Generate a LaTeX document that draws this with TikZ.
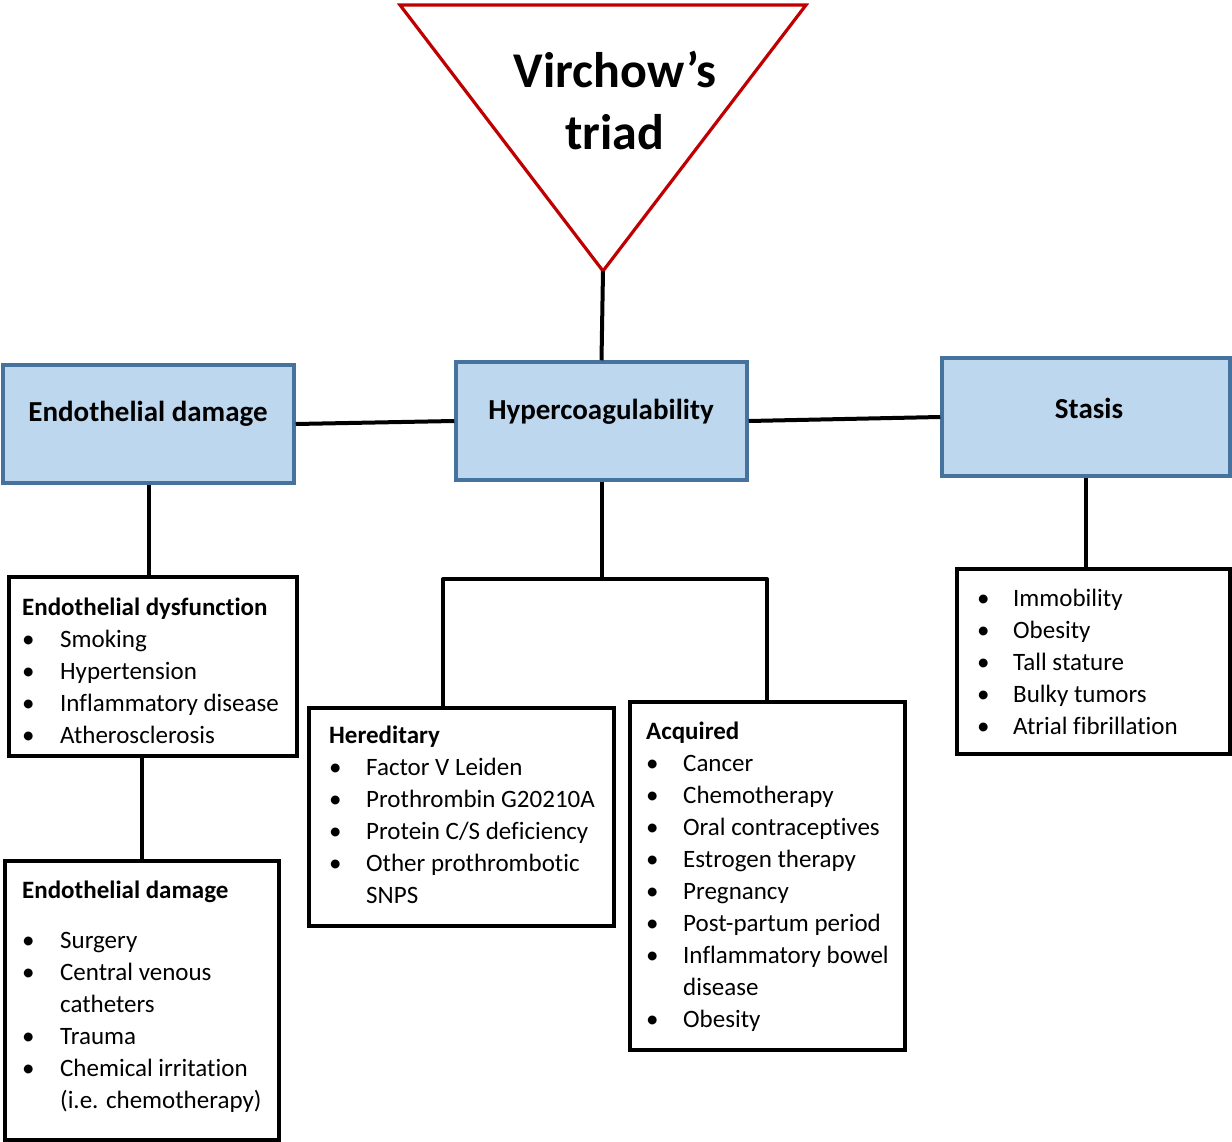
\documentclass[tikz,border=0pt]{standalone}
\usepackage{fontspec}
\setmainfont{Carlito}[RawFeature={-liga;-clig;-calt;-dlig}]
\usepackage{array}
\definecolor{hdr}{RGB}{70,114,158}
\definecolor{hfill}{RGB}{189,215,238}
\definecolor{tri}{RGB}{192,0,0}
\tikzset{
  hbox/.style={draw=hdr, fill=hfill, line width=3.5pt, rectangle, inner sep=0pt},
  lbox/.style={draw=black, fill=white, line width=4pt, rectangle, inner sep=0pt},
  htext/.style={font=\fontsize{29}{34}\selectfont\bfseries, inner sep=0pt},
  ltext/.style={font=\fontsize{25}{32.1}\selectfont, inner sep=0pt, anchor=base west},
  conn/.style={line width=4pt, draw=black},
}
\begin{document}
\begin{tikzpicture}[x=1pt,y=-1pt]
\useasboundingbox (0,0) rectangle (1232,1142);
% triangle
\coordinate (tl) at (400,5);
\coordinate (tr) at (806,5);
\coordinate (tb) at (603,271);
\draw[tri, line width=3.2pt, line join=miter, fill=white] (tl) -- (tr) -- (tb) -- cycle;
\node[font=\fontsize{50}{62}\selectfont\bfseries, align=center, inner sep=0pt] (title) at (615,100) {Virchow’s\\triad};
% header boxes
\node[hbox, minimum width=291pt, minimum height=118pt] (endo) at (148.5,424) {};
\node[hbox, minimum width=291pt, minimum height=118pt] (hyper) at (601.5,421) {};
\node[hbox, minimum width=288pt, minimum height=118pt] (stasis) at (1086,417) {};
\node[htext] (endoT) at (148,414) {Endothelial damage};
\node[htext] (hyperT) at (601,412) {Hypercoagulability};
\node[htext] (stasisT) at (1089,408) {Stasis};
% lower boxes
\node[lbox, minimum width=288pt, minimum height=179pt] (dysf) at (153,666.5) {};
\node[lbox, minimum width=274pt, minimum height=279pt] (dmg) at (142,1000.5) {};
\node[lbox, minimum width=305pt, minimum height=218pt] (her) at (461.5,817) {};
\node[lbox, minimum width=275pt, minimum height=348pt] (acq) at (767.5,876) {};
\node[lbox, minimum width=273pt, minimum height=185pt] (stl) at (1093.5,661.5) {};
% connectors
\draw[conn] (tb) -- (hyper.north);
\draw[conn] (endo.east) -- (hyper.west);
\draw[conn] (hyper.east) -- (stasis.west);
\draw[conn] (endo.south) -- (endo.south |- dysf.north);
\draw[conn] (dmg.north |- dysf.south) -- (dmg.north);
\coordinate (j) at (604,579);
\coordinate (jl) at (443,579);
\coordinate (jr) at (767,579);
\draw[conn] (hyper.south) -- (hyper.south |- j);
\draw[conn, line cap=round] (jl) -- (jr);
\draw[conn] (jl) -- (jl |- her.north);
\draw[conn] (jr) -- (jr |- acq.north);
\draw[conn] (stasis.south) -- (stasis.south |- stl.north);
% texts
\node[ltext] (dysfT) at (22,615) {\begin{tabular}[t]{@{}p{38pt}@{}l@{}}
\multicolumn{2}{@{}l@{}}{\bfseries Endothelial dysfunction}\\
\textbullet & Smoking\\
\textbullet & Hypertension\\
\textbullet & Inflammatory disease\\
\textbullet & Atherosclerosis
\end{tabular}};
\node[ltext] (dmgT) at (22,898) {\begin{tabular}[t]{@{}p{38pt}@{}l@{}}
\multicolumn{2}{@{}l@{}}{\bfseries Endothelial damage}\\[18pt]
\textbullet & Surgery\\
\textbullet & Central venous\\
 & catheters\\
\textbullet & Trauma\\
\textbullet & Chemical irritation\\
 & (i.e. chemotherapy)
\end{tabular}};
\node[ltext] (herT) at (329,743) {\begin{tabular}[t]{@{}p{37pt}@{}l@{}}
\multicolumn{2}{@{}l@{}}{\bfseries Hereditary}\\
\textbullet & Factor V Leiden\\
\textbullet & Prothrombin G20210A\\
\textbullet & Protein C/S deficiency\\
\textbullet & Other prothrombotic\\
 & SNPS
\end{tabular}};
\node[ltext] (acqT) at (646,739) {\begin{tabular}[t]{@{}p{37pt}@{}l@{}}
\multicolumn{2}{@{}l@{}}{\bfseries Acquired}\\
\textbullet & Cancer\\
\textbullet & Chemotherapy\\
\textbullet & Oral contraceptives\\
\textbullet & Estrogen therapy\\
\textbullet & Pregnancy\\
\textbullet & Post-partum period\\
\textbullet & Inflammatory bowel\\
 & disease\\
\textbullet & Obesity
\end{tabular}};
\node[ltext] (stlT) at (977,606) {\begin{tabular}[t]{@{}p{36pt}@{}l@{}}
\textbullet & Immobility\\
\textbullet & Obesity\\
\textbullet & Tall stature\\
\textbullet & Bulky tumors\\
\textbullet & Atrial fibrillation
\end{tabular}};
\end{tikzpicture}
\end{document}
